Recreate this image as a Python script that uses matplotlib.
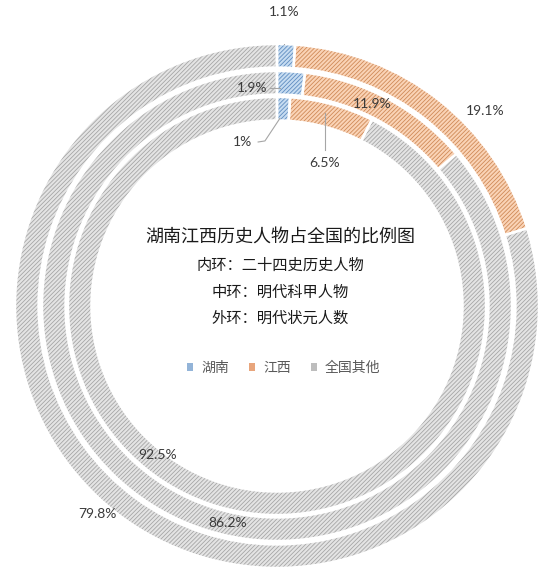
import matplotlib
matplotlib.use("Agg")
import matplotlib.pyplot as plt

plt.rcParams['font.family'] = ['Noto Sans CJK SC', 'DejaVu Sans']
plt.rcParams['hatch.linewidth'] = 0.6

# 数据
categories = ['湖南', '江西', '全国其他']
inner_vals = [1.0, 6.5, 92.5]     # 内环：二十四史历史人物
middle_vals = [1.9, 11.9, 86.2]   # 中环：明代科甲人物
outer_vals = [1.1, 19.1, 79.8]    # 外环：明代状元人数
title = '湖南江西历史人物占全国的比例图'
notes = ['内环：二十四史历史人物', '中环：明代科甲人物', '外环：明代状元人数']

face_colors = ['#C6DCF1', '#FAD3B6', '#E4E4E4']
hatch_colors = ['#5F8CC0', '#CF8A58', '#A6A6A6']
legend_colors = ['#93B4D8', '#E8A57C', '#BDBDBD']
HATCH = '////////'

fig = plt.figure(figsize=(5.56, 5.80), dpi=100)
ax = fig.add_axes([15 / 556, 12 / 580, 524 / 556, 524 / 580])

rings = [(outer_vals, 1.0), (middle_vals, 0.897), (inner_vals, 0.798)]
width = 0.09
for vals, r in rings:
    wedges, _ = ax.pie(vals, radius=r, startangle=90, counterclock=False,
                       colors=face_colors,
                       wedgeprops=dict(width=width, linewidth=0, hatch=HATCH))
    for w, hc in zip(wedges, hatch_colors):
        w.set_edgecolor(hc)
    # white separators
    ax.pie(vals, radius=r, startangle=90, counterclock=False,
           wedgeprops=dict(width=width, fill=False, edgecolor='white', linewidth=1.8))

ax.set_xlim(-1, 1)
ax.set_ylim(-1, 1)
ax.set_aspect('auto')
ax.axis('off')

# 百分比标签（位置）
label_pos = {
    'outer': [(0.027, 1.122), (0.794, 0.744), (-0.687, -0.794)],
    'middle': [(-0.095, 0.832), (0.363, 0.771), (-0.187, -0.828)],
    'inner': [(-0.130, 0.626), (0.183, 0.546), (-0.454, -0.569)],
}
lab_kw = dict(family=['Lato', 'DejaVu Sans'], fontsize=10, color='#3A3A3A',
              ha='center', va='center')


def fmt(v):
    return f'{v:g}%'


for key, vals in [('outer', outer_vals), ('middle', middle_vals), ('inner', inner_vals)]:
    for (x, y), v in zip(label_pos[key], vals):
        ax.text(x, y, fmt(v), **lab_kw)

# 引导线
line_kw = dict(color='#A6A6A6', lw=0.8)
ax.plot([0.027, 0.027], [1.092, 1.0], **line_kw)
ax.plot([-0.025, 0.013], [0.832, 0.832], **line_kw)
ax.plot([-0.072, -0.046, 0.011], [0.626, 0.630, 0.716], **line_kw)
ax.plot([0.183, 0.183], [0.595, 0.735], **line_kw)

# 中心文字
ax.text(0.011, 0.26, title, fontsize=13, color='#1A1A1A', ha='center', va='center')
for y, s in zip([0.156, 0.053, -0.046], notes):
    ax.text(0.011, y, s, fontsize=11, color='#1A1A1A', ha='center', va='center')

handles = [plt.Rectangle((0, 0), 1, 1, facecolor=c, edgecolor='none')
           for c in legend_colors]
ax.legend(handles, categories, loc='center', bbox_to_anchor=(0.513, 0.382), ncol=3,
          frameon=False, fontsize=10, labelcolor='#595959', handlelength=0.45,
          handleheight=0.45, handletextpad=0.6, columnspacing=1.4)

fig.savefig('out.png', dpi=100, facecolor='white')
